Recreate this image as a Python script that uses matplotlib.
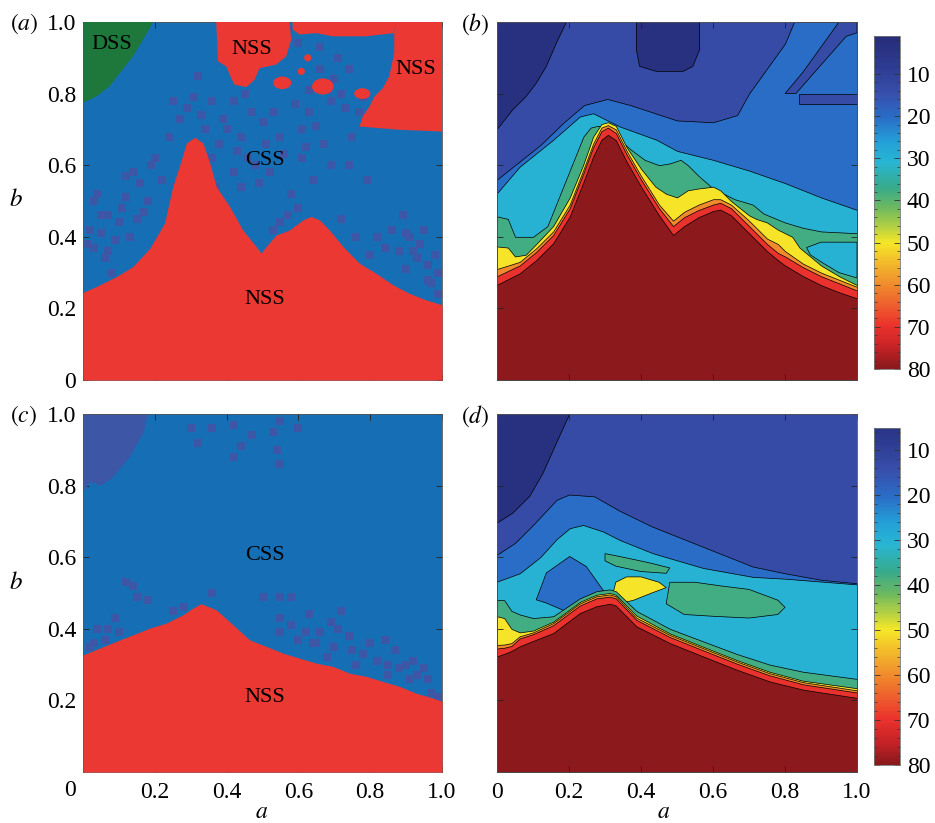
import numpy as np
import matplotlib
matplotlib.use("Agg")
import matplotlib.pyplot as plt
from matplotlib.colors import LinearSegmentedColormap, ListedColormap, Normalize
from matplotlib.patches import Ellipse
from matplotlib.ticker import MultipleLocator

plt.rcParams["font.family"] = ["Liberation Serif", "DejaVu Serif"]
plt.rcParams["mathtext.fontset"] = "stix"

# ---------------- panel (a): regimes, first case ----------------
a_nss_x = [0, .037, .093, .139, .186, .227, .25, .274, .288, .311, .334, .353, .371, .408, .445,
           .482, .496, .51, .538, .575, .612, .635, .659, .686, .724, .77, .816, .863, .909, .955, 1.0]
a_nss_y = [.245, .261, .289, .317, .368, .438, .54, .615, .662, .678, .662, .606, .54, .485, .419,
           .373, .354, .373, .405, .419, .447, .457, .447, .419, .373, .326, .298, .266, .242, .224, .21]
a_dss_x = [0, .195, .167, .139, .102, .074, .037, 0]
a_dss_y = [1.0, 1.0, .95, .904, .857, .82, .792, .774]
a_top_x = [.371, .575, .58, .566, .538, .492, .478, .455, .422, .413, .399, .376]
a_top_y = [1.0, 1.0, .951, .904, .881, .871, .839, .818, .825, .843, .876, .89]
a_right_x = [.872, 1.0, 1.0, .881, .77, .779, .798, .812, .835, .853, .867, .867]
a_right_y = [1.0, 1.0, .694, .699, .708, .736, .764, .792, .815, .848, .913, .969]
a_strip_x = [.584, .872, .867, .788, .696, .649, .603, .584]
a_strip_y = [1.0, 1.0, .969, .96, .96, .969, .965, .979]
a_blob_x = [.555, .668, .778, .626, .608]
a_blob_y = [.83, .82, .80, .9, .862]
a_blob_w = [.05, .06, .045, .02, .02]
a_blob_h = [.035, .045, .03, .02, .02]
a_speck_x = [.05, .07, .03, .06, .09, .12, .16, .14, .19, .2, .05, .02, .1, .08, .15, .18,
             .32, .36, .31, .42, .47, .53, .59, .63, .69, .73, .77, .57, .6, .66, .71, .74, .66, .70,
             .45, .5, .27, .25, .36, .42, .49, .44, .37, .58, .6, .64, .69, .74, .79, .57, .55, .53,
             .62, .55, .44, .4, .84, .88, .93, .96, .98, .9, .86, .97, .99, .82, .9, .94, .8, .76, .72,
             .04, .11, .13, .17, .22, .01, .07, .12, .03, .24, .29, .33, .39, .34, .46, .51, .56,
             .61, .67, .75, .81, .85, .63, .68, .72, .78, .83, .87, .91, .95, .99, .92, .96, .89,
             .43, .48, .52, .38, .61, .65]
a_speck_y = [.41, .46, .37, .34, .39, .51, .55, .58, .60, .62, .46, .42, .44, .3, .45, .5,
             .85, .78, .79, .78, .75, .75, .77, .75, .78, .76, .75, .98, .94, .93, .9, .87, .87, .84,
             .8, .72, .73, .78, .62, .58, .55, .54, .54, .52, .48, .56, .6, .6, .56, .46, .44, .42,
             .65, .68, .68, .7, .37, .36, .34, .32, .35, .41, .42, .27, .24, .4, .31, .38, .35, .4, .45,
             .52, .48, .40, .47, .56, .38, .36, .57, .50, .68, .76, .74, .73, .70, .62, .66, .63,
             .62, .66, .68, .72, .74, .81, .81, .80, .79, .78, .79, .40, .42, .30, .36, .28, .46,
             .64, .60, .58, .66, .70, .71]

# ---------------- panel (c): regimes, second case ----------------
c_nss_x = [0, .046, .093, .139, .186, .232, .278, .306, .329, .371, .418, .464, .51, .557, .603,
           .65, .696, .742, .789, .835, .882, .928, .974, 1.0]
c_nss_y = [.327, .346, .365, .383, .402, .416, .439, .458, .47, .453, .411, .369, .351, .332, .318,
           .304, .295, .276, .267, .253, .239, .22, .207, .197]
c_blob_x = [0, .18, .17, .13, .08, .05, .02, 0]
c_blob_y = [1.0, 1.0, .95, .88, .82, .8, .81, .78]
c_speck_x = [.3, .32, .42, .44, .42, .53, .54, .55, .6, .36, .47, .55,
             .12, .14, .09, .1, .04, .03, .06, .18, .25, .28, .36, .5, .55, .58, .55, .63, .69, .72,
             .62, .66, .71, .55, .6, .65, .7, .75, .78, .82, .85, .88, .9, .93, .96, .97, .99,
             .84, .8, .74, .85, .91, .95, .68, .87, .92, .76, .64, .58, .15, .02, .07]
c_speck_y = [.96, .92, .97, .91, .88, .95, .9, .98, .96, .96, .94, .86,
             .53, .52, .43, .39, .4, .36, .37, .48, .45, .46, .5, .49, .49, .49, .43, .44, .42, .45,
             .39, .39, .4, .39, .37, .36, .35, .34, .33, .31, .3, .29, .3, .27, .26, .22, .21,
             .37, .36, .38, .27, .26, .29, .32, .34, .31, .30, .36, .41, .49, .35, .40]

# ---------------- panel (b): contour bands, first case ----------------
b_navy1_x = [0, .193, .165, .137, .109, .081, .044, 0]
b_navy1_y = [1.0, 1.0, .941, .876, .829, .792, .755, .699]
b_navy2_x = [.387, .563, .563, .544, .517, .443, .396, .387]
b_navy2_y = [1.0, 1.0, .923, .876, .862, .862, .876, .923]
b_light_x = [0, .12, .186, .242, .306, .37, .5, .6, .667, .7, .75, .8, .825, 1.0]
b_light_y = [.56, .656, .72, .768, .785, .768, .725, .72, .74, .8, .87, .94, 1.0, 1.0]
b_strip1_x = [.80, .83, .9, .97, 1.0, 1.0, .95, .9, .85]
b_strip1_y = [.80, .80, .88, .96, .97, 1.0, 1.0, .93, .86]
b_strip2_x = [.84, 1.0, 1.0, .84]
b_strip2_y = [.77, .77, .80, .80]
b_cyan_x = [0, .063, .156, .23, .267, .341, .443, .5, .6, .7, .8, .9, 1.0]
b_cyan_y = [.522, .596, .671, .736, .745, .708, .671, .64, .615, .585, .55, .51, .475]
b_green_x = [0, .03, .05, .1, .14, .16, .18, .2, .22, .24, .26, .28, .30, .33, .37, .41, .45, .48,
             .51, .53, .56, .6, .66, .71, .74, .8, .85, .9, 1.0]
b_green_y = [.457, .45, .40, .40, .43, .48, .53, .58, .63, .68, .705, .71, .705, .68, .645, .615,
             .60, .605, .615, .60, .57, .535, .505, .49, .465, .44, .425, .415, .41]
b_cyan2_x = [.86, .9, .95, 1.0, 1.0, .95, .9, .87]
b_cyan2_y = [.37, .385, .385, .385, .285, .30, .33, .35]
b_yel_x = [0, .03, .05, .08, .109, .156, .202, .239, .267, .29, .308, .33, .36, .4, .44, .47, .5,
           .53, .56, .6, .62, .65, .7, .72, .75, .78, .82, .84, .87, .9, .95, 1.0]
b_yel_y = [.373, .37, .345, .35, .38, .43, .51, .60, .68, .715, .72, .71, .65, .59, .54, .52, .51,
           .53, .535, .54, .53, .50, .46, .45, .44, .42, .40, .37, .345, .32, .29, .265]
b_band_x = [0, .063, .109, .156, .202, .239, .267, .29, .308, .33, .36, .4, .45, .489, .52, .56,
            .6, .62, .65, .7, .75, .78, .8, .85, .9, .95, 1.0]
b_org_y = [.31, .33, .368, .415, .49, .585, .66, .705, .712, .70, .64, .57, .49, .445, .47, .49,
           .505, .505, .49, .445, .395, .38, .36, .325, .30, .28, .26]
b_red_y = [.29, .32, .358, .405, .48, .575, .65, .695, .705, .69, .63, .56, .48, .43, .455, .475,
           .49, .495, .48, .43, .38, .355, .345, .315, .29, .27, .25]
b_dark_y = [.266, .298, .335, .382, .457, .55, .624, .671, .685, .67, .61, .54, .46, .405, .43,
            .455, .472, .476, .46, .41, .36, .335, .32, .29, .265, .245, .228]

# ---------------- panel (d): contour bands, second case ----------------
d_navy_x = [0, .202, .165, .128, .091, .044, 0]
d_navy_y = [1.0, 1.0, .918, .835, .77, .723, .695]
d_mid_x = [0, .05, .1, .165, .2, .27, .34, .43, .57, .71, .8, .9, 1.0]
d_mid_y = [.607, .64, .69, .76, .775, .77, .73, .686, .63, .574, .555, .537, .527]
d_cyan_x = [0, .063, .12, .165, .202, .239, .294, .341, .433, .572, .711, .8, .9, 1.0]
d_cyan_y = [.532, .555, .6, .65, .681, .69, .672, .648, .611, .57, .545, .54, .532, .524]
d_isle_x = [.109, .137, .202, .248, .294, .313, .276, .202, .137]
d_isle_y = [.481, .556, .602, .574, .509, .481, .463, .444, .472]
d_gisle1_x = [.48, .55, .62, .7, .78, .8, .78, .7, .6, .52, .47]
d_gisle1_y = [.53, .53, .52, .51, .48, .46, .44, .43, .435, .44, .47]
d_gisle2_x = [.3, .35, .42, .48, .47, .4, .33, .3]
d_gisle2_y = [.61, .60, .585, .57, .555, .56, .575, .59]
d_yisle_x = [.32, .33, .36, .4, .45, .47, .43, .38, .34]
d_yisle_y = [.49, .53, .545, .545, .53, .515, .50, .48, .47]
d_band_x = [0, .02, .04, .063, .1, .156, .23, .276, .313, .33, .387, .48, .572, .665, .757, .85, 1.0]
d_green_y = [.48, .48, .45, .44, .43, .435, .485, .505, .51, .505, .45, .40, .365, .33, .30, .28, .26]
d_yel_y = [.435, .43, .40, .39, .395, .42, .475, .495, .50, .495, .437, .387, .35, .313, .28, .255, .234]
d_org_y = [.355, .356, .36, .379, .39, .416, .471, .491, .496, .491, .431, .383, .346, .309, .276, .251, .228]
d_red_y = [.345, .347, .352, .373, .385, .41, .465, .485, .49, .485, .425, .377, .34, .303, .27, .245, .222]
d_dark_y = [.323, .33, .338, .351, .366, .388, .444, .463, .47, .465, .407, .36, .323, .286, .253, .23, .207]

# colour scale (value, rgb)
cbar_vals = [0, 8, 14, 20, 26, 31, 37, 42, 50, 60, 70, 75, 80]
cbar_rgb = [(38, 42, 118), (45, 60, 145), (55, 78, 170), (42, 108, 198), (35, 160, 215),
            (40, 182, 210), (55, 170, 140), (110, 185, 95), (245, 230, 40), (240, 140, 45),
            (235, 50, 45), (200, 35, 38), (140, 25, 28)]
band_vals = {"navy": 3, "blue": 13, "light": 20, "cyan": 30, "green": 38,
             "yellow": 50, "orange": 60, "red": 70, "dark": 80}

cmap_full = LinearSegmentedColormap.from_list(
    "muted_jet", [(v / 80, tuple(c / 255 for c in rgb)) for v, rgb in zip(cbar_vals, cbar_rgb)])
norm_full = Normalize(0, 80)


def band_col(name):
    return cmap_full(norm_full(band_vals[name]))


BLUE = "#166fb5"
SPECK = "#3d56a6"
RED = "#eb3833"
GREEN = "#1e783c"
TXT = 17

fig = plt.figure(figsize=(9.35, 8.23), dpi=100)
W, H = 935.0, 823.0
ax_a = fig.add_axes([83 / W, 1 - 380 / H, 359 / W, 358 / H])
ax_b = fig.add_axes([497 / W, 1 - 380 / H, 360 / W, 358 / H])
ax_c = fig.add_axes([83 / W, 1 - 772 / H, 359 / W, 358 / H])
ax_d = fig.add_axes([497 / W, 1 - 772 / H, 360 / W, 358 / H])
cax_b = fig.add_axes([874 / W, 1 - 369 / H, 26 / W, 333 / H])
cax_d = fig.add_axes([874 / W, 1 - 765 / H, 26 / W, 337 / H])

# ---- (a)
ax_a.fill_between([0, 1], 0, 1, color=BLUE, lw=0, zorder=1)
ax_a.scatter(a_speck_x, a_speck_y, s=40, marker="s", color=SPECK, linewidths=0, zorder=2)
ax_a.fill(a_dss_x, a_dss_y, color=GREEN, lw=0, zorder=3)
ax_a.fill(a_top_x, a_top_y, color=RED, lw=0, zorder=3)
ax_a.fill(a_right_x, a_right_y, color=RED, lw=0, zorder=3)
ax_a.fill(a_strip_x, a_strip_y, color=RED, lw=0, zorder=3)
for x, y, w, h in zip(a_blob_x, a_blob_y, a_blob_w, a_blob_h):
    ax_a.add_patch(Ellipse((x, y), w, h, color=RED, lw=0, zorder=3))
ax_a.fill_between(a_nss_x, 0, a_nss_y, color=RED, lw=0, zorder=3)
for txt, x, y in [("DSS", .079, .937), ("NSS", .47, .923), ("NSS", .926, .867),
                  ("CSS", .507, .612), ("NSS", .507, .226)]:
    ax_a.text(x, y, txt, fontsize=16, ha="center", va="center", zorder=5)

# ---- (c)
ax_c.fill_between([0, 1], 0, 1, color=BLUE, lw=0, zorder=1)
ax_c.fill(c_blob_x, c_blob_y, color=SPECK, lw=0, zorder=2)
ax_c.scatter(c_speck_x, c_speck_y, s=40, marker="s", color=SPECK, linewidths=0, zorder=2)
ax_c.fill_between(c_nss_x, 0, c_nss_y, color=RED, lw=0, zorder=3)
ax_c.text(.507, .606, "CSS", fontsize=16, ha="center", va="center", zorder=5)
ax_c.text(.507, .207, "NSS", fontsize=16, ha="center", va="center", zorder=5)

# ---- (b)
EDGE = dict(edgecolor="k", linewidth=0.5)
ax_b.fill_between([0, 1], 0, 1, facecolor=band_col("blue"), lw=0)
ax_b.fill(b_navy1_x, b_navy1_y, facecolor=band_col("navy"), **EDGE)
ax_b.fill(b_navy2_x, b_navy2_y, facecolor=band_col("navy"), **EDGE)
ax_b.fill_between(b_light_x, 0, b_light_y, facecolor=band_col("light"), **EDGE)
ax_b.fill(b_strip1_x, b_strip1_y, facecolor=band_col("blue"), **EDGE)
ax_b.fill(b_strip2_x, b_strip2_y, facecolor=band_col("blue"), **EDGE)
ax_b.fill_between(b_cyan_x, 0, b_cyan_y, facecolor=band_col("cyan"), **EDGE)
ax_b.fill_between(b_green_x, 0, b_green_y, facecolor=band_col("green"), **EDGE)
ax_b.fill(b_cyan2_x, b_cyan2_y, facecolor=band_col("cyan"), **EDGE)
ax_b.fill_between(b_yel_x, 0, b_yel_y, facecolor=band_col("yellow"), **EDGE)
ax_b.fill_between(b_band_x, 0, b_org_y, facecolor=band_col("orange"), **EDGE)
ax_b.fill_between(b_band_x, 0, b_red_y, facecolor=band_col("red"), **EDGE)
ax_b.fill_between(b_band_x, 0, b_dark_y, facecolor=band_col("dark"), **EDGE)

# ---- (d)
ax_d.fill_between([0, 1], 0, 1, facecolor=band_col("blue"), lw=0)
ax_d.fill(d_navy_x, d_navy_y, facecolor=band_col("navy"), **EDGE)
ax_d.fill_between(d_mid_x, 0, d_mid_y, facecolor=band_col("light"), **EDGE)
ax_d.fill_between(d_cyan_x, 0, d_cyan_y, facecolor=band_col("cyan"), **EDGE)
ax_d.fill(d_isle_x, d_isle_y, facecolor=band_col("light"), **EDGE)
ax_d.fill(d_gisle1_x, d_gisle1_y, facecolor=band_col("green"), **EDGE)
ax_d.fill(d_gisle2_x, d_gisle2_y, facecolor=band_col("green"), **EDGE)
ax_d.fill(d_yisle_x, d_yisle_y, facecolor=band_col("yellow"), **EDGE)
ax_d.fill_between(d_band_x, 0, d_green_y, facecolor=band_col("green"), **EDGE)
ax_d.fill_between(d_band_x, 0, d_yel_y, facecolor=band_col("yellow"), **EDGE)
ax_d.fill_between(d_band_x, 0, d_org_y, facecolor=band_col("orange"), **EDGE)
ax_d.fill_between(d_band_x, 0, d_red_y, facecolor=band_col("red"), **EDGE)
ax_d.fill_between(d_band_x, 0, d_dark_y, facecolor=band_col("dark"), **EDGE)

# ---- axes cosmetics
ticks = [0, .2, .4, .6, .8, 1.0]
tick_txt = ["0", "0.2", "0.4", "0.6", "0.8", "1.0"]
for ax in [ax_a, ax_b, ax_c, ax_d]:
    ax.set_xlim(0, 1)
    ax.set_ylim(0, 1)
    ax.set_xticks(ticks)
    ax.set_yticks(ticks)
    ax.set_xticklabels([])
    ax.set_yticklabels([])
    ax.tick_params(direction="in", top=True, right=True, length=4, width=0.6,
                   labelsize=TXT, color="#222222")
    ax.tick_params(axis="x", pad=7)
    ax.tick_params(axis="y", pad=5)
    for sp in ax.spines.values():
        sp.set_linewidth(0.6)
        sp.set_color("#555555")

ax_a.set_yticklabels(tick_txt)
ax_c.set_yticks(ticks[1:])
ax_c.set_yticklabels(tick_txt[1:])
ax_c.set_xticklabels([""] + tick_txt[1:])
ax_d.set_xticklabels(tick_txt)
fig.text(70 / W, 1 - 791 / H, "0", fontsize=TXT, ha="center", va="center")

# ---- colorbars
for cax, vmin in [(cax_b, 1), (cax_d, 5)]:
    cm = ListedColormap(cmap_full(np.linspace(vmin / 80, 1, 256)))
    sm = plt.cm.ScalarMappable(norm=Normalize(vmin, 80), cmap=cm)
    cb = fig.colorbar(sm, cax=cax)
    cb.set_ticks([10, 20, 30, 40, 50, 60, 70, 80])
    cax.invert_yaxis()
    cax.yaxis.set_minor_locator(MultipleLocator(2))
    cax.tick_params(which="both", direction="in", left=True, right=True, color="#333333",
                    labelsize=TXT, pad=5)
    cax.tick_params(which="major", length=4, width=0.6)
    cax.tick_params(which="minor", length=2, width=0.5)
    cb.outline.set_linewidth(0.6)
    cb.outline.set_edgecolor("#777777")

# ---- labels
for txt, x, y in [("$(a)$", 24, 24), ("$(b)$", 475, 24), ("$(c)$", 24, 416), ("$(d)$", 475, 416)]:
    fig.text(x / W, 1 - y / H, txt, fontsize=TXT, ha="center", va="center")
fig.text(16 / W, 1 - 200 / H, "$b$", fontsize=18, ha="center", va="center")
fig.text(16 / W, 1 - 583 / H, "$b$", fontsize=18, ha="center", va="center")
fig.text(262 / W, 1 - 813 / H, "$a$", fontsize=17, ha="center", va="center")
fig.text(664 / W, 1 - 813 / H, "$a$", fontsize=17, ha="center", va="center")

fig.savefig("out.png", dpi=100)
